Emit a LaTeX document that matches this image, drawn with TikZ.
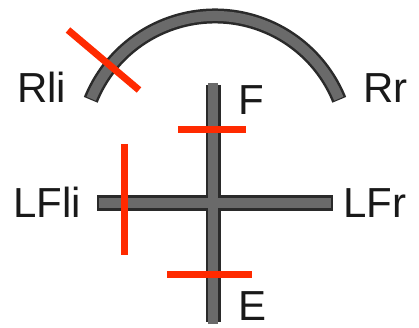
\documentclass[tikz,border=0pt]{standalone}
\usepackage{fontspec}
\setmainfont{Liberation Sans}
\definecolor{mark}{HTML}{FF2A00}
\definecolor{barfill}{HTML}{6A6A6A}
\definecolor{barline}{HTML}{2A2A2A}
\begin{document}
\begin{tikzpicture}[x=1pt,y=-1pt,
  lbl/.style={font=\fontsize{42}{42}\selectfont, inner sep=0pt, anchor=base west, text=black!90},
  barout/.style={draw=barline, line width=15},
  barin/.style={draw=barfill, line width=10},
  redmark/.style={draw=mark, line width=7}]
\useasboundingbox (0,0) rectangle (419,328);
% coordinates
\coordinate (vt) at (213,85);
\coordinate (vb) at (213,322);
\coordinate (hl) at (97,203);
\coordinate (hr) at (333,203);
\coordinate (ac) at (215,150);
% arc
\draw[barout] (ac) ++(202:134) arc[start angle=202,end angle=338,radius=134];
\draw[barin] (ac) ++(202.5:134) arc[start angle=202.5,end angle=337.5,radius=134];
% cross
\draw[barout] (hl) -- (hr);
\draw[barout] (vt) -- (vb);
\draw[barin] ([xshift=2]hl) -- ([xshift=-2]hr);
\draw[barin] ([yshift=2]vt) -- ([yshift=-2]vb);
% labels
\node[lbl] (rli) at (17,103) {Rli};
\node[lbl] (rr) at (363,103) {Rr};
\node[lbl] (f) at (238,115) {F};
\node[lbl] (lfli) at (13,217) {LFli};
\node[lbl] (lfr) at (343,217) {LFr};
\node[lbl] (e) at (238,320) {E};
% red marks
\coordinate (d1) at (68,30); \coordinate (d2) at (139,90);
\coordinate (f1) at (178,130); \coordinate (f2) at (246,130);
\coordinate (l1) at (124,144); \coordinate (l2) at (124,255);
\coordinate (e1) at (167,274); \coordinate (e2) at (252,274);
\draw[redmark] (d1) -- (d2);
\draw[redmark] (f1) -- (f2);
\draw[redmark] (l1) -- (l2);
\draw[redmark] (e1) -- (e2);
\end{tikzpicture}
\end{document}
